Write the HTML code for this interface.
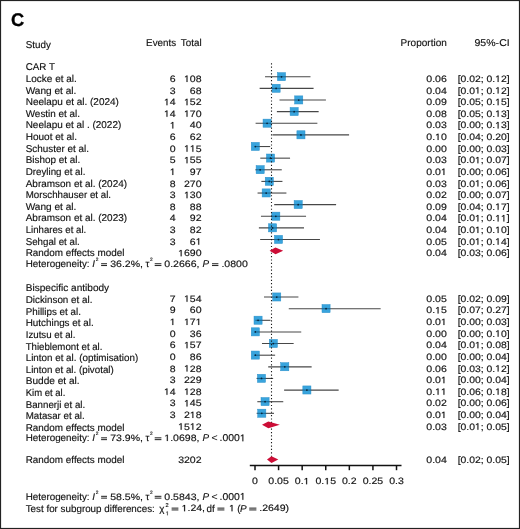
<!DOCTYPE html>
<html><head><meta charset="utf-8"><style>
html,body{margin:0;padding:0;background:#fff;}
body{width:520px;height:529px;overflow:hidden;}
svg{display:block;}
#w{will-change:transform;width:520px;height:529px;}
text{text-rendering:geometricPrecision;font-family:"Liberation Sans",sans-serif;font-size:9.9px;fill:#111;stroke:#111;stroke-width:0.15px;}
.num{font-size:9.2px;}
.eq{fill:#2a2a2a;}
.ones path{fill:#111;stroke:#111;stroke-width:0.15px;vector-effect:non-scaling-stroke;}
.sq{fill:#38a4dd;stroke:#2a8fc9;stroke-width:0.5;}
.cii{stroke:rgba(0,45,75,0.5);stroke-width:1.1;}
.ci{stroke:rgba(0,0,0,0.72);stroke-width:1.1;}
.dot{fill:#05243a;}
.dm{fill:#cc0d36;}
.ax{stroke:#111;stroke-width:1.5;}
.dt{stroke:#1a1a1a;stroke-width:1.1;stroke-dasharray:1.2 2.183;}
</style></head><body>
<div id="w"><svg width="520" height="529" viewBox="0 0 520 529">
<rect x="0.5" y="0.5" width="519" height="528" fill="#fff" stroke="#222" stroke-width="1.2"/>
<text x="11.0" y="26.1" style="font-size:18.3px;font-weight:bold;fill:#000;stroke:#000;stroke-width:0.3px">C</text>
<line x1="265.04" y1="76.78" x2="310.49" y2="76.78" class="ci"/>
<line x1="259.64" y1="88.40" x2="313.58" y2="88.40" class="ci"/>
<line x1="279.49" y1="100.03" x2="325.92" y2="100.03" class="ci"/>
<line x1="276.88" y1="111.65" x2="318.66" y2="111.65" class="ci"/>
<line x1="255.60" y1="123.28" x2="317.37" y2="123.28" class="ci"/>
<line x1="272.45" y1="134.91" x2="349.09" y2="134.91" class="ci"/>
<line x1="255.30" y1="146.53" x2="270.19" y2="146.53" class="ci"/>
<line x1="260.28" y1="158.16" x2="290.05" y2="158.16" class="ci"/>
<line x1="255.42" y1="169.78" x2="281.76" y2="169.78" class="ci"/>
<line x1="261.37" y1="181.41" x2="282.44" y2="181.41" class="ci"/>
<line x1="257.56" y1="193.04" x2="286.41" y2="193.04" class="ci"/>
<line x1="274.20" y1="204.66" x2="336.10" y2="204.66" class="ci"/>
<line x1="260.95" y1="216.29" x2="306.05" y2="216.29" class="ci"/>
<line x1="258.89" y1="227.91" x2="303.99" y2="227.91" class="ci"/>
<line x1="260.14" y1="239.54" x2="319.96" y2="239.54" class="ci"/>
<line x1="264.01" y1="297.07" x2="298.42" y2="297.07" class="ci"/>
<line x1="288.77" y1="308.70" x2="380.65" y2="308.70" class="ci"/>
<line x1="255.37" y1="320.32" x2="270.47" y2="320.32" class="ci"/>
<line x1="255.30" y1="331.95" x2="301.24" y2="331.95" class="ci"/>
<line x1="261.98" y1="343.57" x2="293.66" y2="343.57" class="ci"/>
<line x1="255.30" y1="355.20" x2="275.11" y2="355.20" class="ci"/>
<line x1="268.21" y1="366.83" x2="311.64" y2="366.83" class="ci"/>
<line x1="256.58" y1="378.45" x2="273.13" y2="378.45" class="ci"/>
<line x1="284.12" y1="390.08" x2="338.65" y2="390.08" class="ci"/>
<line x1="257.32" y1="401.70" x2="283.26" y2="401.70" class="ci"/>
<line x1="256.64" y1="413.33" x2="274.02" y2="413.33" class="ci"/>
<rect x="277.46" y="72.63" width="8.1" height="8.1" class="sq"/>
<rect x="272.06" y="84.25" width="8.1" height="8.1" class="sq"/>
<rect x="294.70" y="95.88" width="8.1" height="8.1" class="sq"/>
<rect x="290.10" y="107.50" width="8.1" height="8.1" class="sq"/>
<rect x="263.04" y="119.13" width="8.1" height="8.1" class="sq"/>
<rect x="296.90" y="130.76" width="8.1" height="8.1" class="sq"/>
<rect x="251.25" y="142.38" width="8.1" height="8.1" class="sq"/>
<rect x="266.47" y="154.01" width="8.1" height="8.1" class="sq"/>
<rect x="256.11" y="165.63" width="8.1" height="8.1" class="sq"/>
<rect x="265.23" y="177.26" width="8.1" height="8.1" class="sq"/>
<rect x="262.14" y="188.89" width="8.1" height="8.1" class="sq"/>
<rect x="294.13" y="200.51" width="8.1" height="8.1" class="sq"/>
<rect x="271.76" y="212.14" width="8.1" height="8.1" class="sq"/>
<rect x="268.51" y="223.76" width="8.1" height="8.1" class="sq"/>
<rect x="274.45" y="235.39" width="8.1" height="8.1" class="sq"/>
<rect x="272.69" y="292.92" width="8.1" height="8.1" class="sq"/>
<rect x="322.00" y="304.55" width="8.1" height="8.1" class="sq"/>
<rect x="254.01" y="316.17" width="8.1" height="8.1" class="sq"/>
<rect x="251.25" y="327.80" width="8.1" height="8.1" class="sq"/>
<rect x="269.28" y="339.42" width="8.1" height="8.1" class="sq"/>
<rect x="251.25" y="351.05" width="8.1" height="8.1" class="sq"/>
<rect x="280.73" y="362.68" width="8.1" height="8.1" class="sq"/>
<rect x="257.43" y="374.30" width="8.1" height="8.1" class="sq"/>
<rect x="302.84" y="385.93" width="8.1" height="8.1" class="sq"/>
<rect x="261.01" y="397.55" width="8.1" height="8.1" class="sq"/>
<rect x="257.74" y="409.18" width="8.1" height="8.1" class="sq"/>
<line x1="277.21" y1="76.78" x2="285.81" y2="76.78" class="cii"/>
<circle cx="281.51" cy="76.78" r="0.9" class="dot"/>
<line x1="271.81" y1="88.40" x2="280.41" y2="88.40" class="cii"/>
<circle cx="276.11" cy="88.40" r="0.9" class="dot"/>
<line x1="294.45" y1="100.03" x2="303.05" y2="100.03" class="cii"/>
<circle cx="298.75" cy="100.03" r="0.9" class="dot"/>
<line x1="289.85" y1="111.65" x2="298.45" y2="111.65" class="cii"/>
<circle cx="294.15" cy="111.65" r="0.9" class="dot"/>
<line x1="262.79" y1="123.28" x2="271.39" y2="123.28" class="cii"/>
<circle cx="267.09" cy="123.28" r="0.9" class="dot"/>
<line x1="296.65" y1="134.91" x2="305.25" y2="134.91" class="cii"/>
<circle cx="300.95" cy="134.91" r="0.9" class="dot"/>
<line x1="255.30" y1="146.53" x2="259.60" y2="146.53" class="cii"/>
<circle cx="255.30" cy="146.53" r="0.9" class="dot"/>
<line x1="266.22" y1="158.16" x2="274.82" y2="158.16" class="cii"/>
<circle cx="270.52" cy="158.16" r="0.9" class="dot"/>
<line x1="255.86" y1="169.78" x2="264.46" y2="169.78" class="cii"/>
<circle cx="260.16" cy="169.78" r="0.9" class="dot"/>
<line x1="264.98" y1="181.41" x2="273.58" y2="181.41" class="cii"/>
<circle cx="269.28" cy="181.41" r="0.9" class="dot"/>
<line x1="261.89" y1="193.04" x2="270.49" y2="193.04" class="cii"/>
<circle cx="266.19" cy="193.04" r="0.9" class="dot"/>
<line x1="293.88" y1="204.66" x2="302.48" y2="204.66" class="cii"/>
<circle cx="298.18" cy="204.66" r="0.9" class="dot"/>
<line x1="271.51" y1="216.29" x2="280.11" y2="216.29" class="cii"/>
<circle cx="275.81" cy="216.29" r="0.9" class="dot"/>
<line x1="268.26" y1="227.91" x2="276.86" y2="227.91" class="cii"/>
<circle cx="272.56" cy="227.91" r="0.9" class="dot"/>
<line x1="274.20" y1="239.54" x2="282.80" y2="239.54" class="cii"/>
<circle cx="278.50" cy="239.54" r="0.9" class="dot"/>
<line x1="272.44" y1="297.07" x2="281.04" y2="297.07" class="cii"/>
<circle cx="276.74" cy="297.07" r="0.9" class="dot"/>
<line x1="321.75" y1="308.70" x2="330.36" y2="308.70" class="cii"/>
<circle cx="326.06" cy="308.70" r="0.9" class="dot"/>
<line x1="255.37" y1="320.32" x2="262.36" y2="320.32" class="cii"/>
<circle cx="258.06" cy="320.32" r="0.9" class="dot"/>
<line x1="255.30" y1="331.95" x2="259.60" y2="331.95" class="cii"/>
<circle cx="255.30" cy="331.95" r="0.9" class="dot"/>
<line x1="269.03" y1="343.57" x2="277.63" y2="343.57" class="cii"/>
<circle cx="273.33" cy="343.57" r="0.9" class="dot"/>
<line x1="255.30" y1="355.20" x2="259.60" y2="355.20" class="cii"/>
<circle cx="255.30" cy="355.20" r="0.9" class="dot"/>
<line x1="280.48" y1="366.83" x2="289.08" y2="366.83" class="cii"/>
<circle cx="284.78" cy="366.83" r="0.9" class="dot"/>
<line x1="257.18" y1="378.45" x2="265.78" y2="378.45" class="cii"/>
<circle cx="261.48" cy="378.45" r="0.9" class="dot"/>
<line x1="302.59" y1="390.08" x2="311.19" y2="390.08" class="cii"/>
<circle cx="306.89" cy="390.08" r="0.9" class="dot"/>
<line x1="260.76" y1="401.70" x2="269.36" y2="401.70" class="cii"/>
<circle cx="265.06" cy="401.70" r="0.9" class="dot"/>
<line x1="257.49" y1="413.33" x2="266.09" y2="413.33" class="cii"/>
<circle cx="261.79" cy="413.33" r="0.9" class="dot"/>
<line x1="271.5" y1="63.2" x2="271.5" y2="458" class="dt"/>
<polygon points="269.60,250.85 275.50,247.55 283.20,250.85 275.50,254.15" class="dm"/>
<polygon points="262.00,424.85 268.30,421.55 279.80,424.85 268.30,428.15" class="dm"/>
<polygon points="267.00,459.60 271.50,456.25 278.30,459.60 271.50,462.95" class="dm"/>
<line x1="249.8" y1="465.5" x2="401.5" y2="465.5" class="ax"/>
<line x1="255.00" y1="465.5" x2="255.00" y2="470.2" class="ax"/>
<line x1="278.58" y1="465.5" x2="278.58" y2="470.2" class="ax"/>
<line x1="302.17" y1="465.5" x2="302.17" y2="470.2" class="ax"/>
<line x1="325.75" y1="465.5" x2="325.75" y2="470.2" class="ax"/>
<line x1="349.34" y1="465.5" x2="349.34" y2="470.2" class="ax"/>
<line x1="372.93" y1="465.5" x2="372.93" y2="470.2" class="ax"/>
<line x1="396.51" y1="465.5" x2="396.51" y2="470.2" class="ax"/>
<text transform="translate(25.70 47.50) scale(0.994 1)">Study</text>
<text transform="translate(176.10 45.70) scale(0.994 1)" text-anchor="end">Events</text>
<text transform="translate(201.60 45.70) scale(0.994 1)" text-anchor="end">Total</text>
<text transform="translate(446.80 45.70) scale(1.0138800000000001 1)" text-anchor="end">Proportion</text>
<text transform="translate(509.70 45.50) scale(1.0685499999999999 1)" text-anchor="end">95%-CI</text>
<text transform="translate(25.70 70.30) scale(0.994 1)">CAR T</text>
<text transform="translate(25.70 81.93) scale(1.0124883999999998 1)">Locke et al.</text>
<text transform="translate(175.70 81.92) scale(1.147 1)" text-anchor="end" class="num">6</text>
<text transform="translate(201.60 81.92) scale(1.147 1)" text-anchor="end" class="num"> 08</text>
<text transform="translate(446.80 81.92) scale(1.147 1)" text-anchor="end" class="num">0.06</text>
<text transform="translate(509.60 81.92) scale(1.129795 1)" text-anchor="end" class="num">[0.02; 0. 2]</text>
<text transform="translate(25.70 93.55) scale(1.021335 1)">Wang et al.</text>
<text transform="translate(175.70 93.54) scale(1.147 1)" text-anchor="end" class="num">3</text>
<text transform="translate(201.60 93.54) scale(1.147 1)" text-anchor="end" class="num">68</text>
<text transform="translate(446.80 93.54) scale(1.147 1)" text-anchor="end" class="num">0.04</text>
<text transform="translate(509.60 93.54) scale(1.129795 1)" text-anchor="end" class="num">[0.0 ; 0. 2]</text>
<text transform="translate(25.70 105.18) scale(1.0105004 1)">Neelapu et al. (2024)</text>
<text transform="translate(175.70 105.17) scale(1.147 1)" text-anchor="end" class="num"> 4</text>
<text transform="translate(201.60 105.17) scale(1.147 1)" text-anchor="end" class="num"> 52</text>
<text transform="translate(446.80 105.17) scale(1.147 1)" text-anchor="end" class="num">0.09</text>
<text transform="translate(509.60 105.17) scale(1.129795 1)" text-anchor="end" class="num">[0.05; 0. 5]</text>
<text transform="translate(25.70 116.80) scale(1.0033436 1)">Westin et al.</text>
<text transform="translate(175.70 116.79) scale(1.147 1)" text-anchor="end" class="num"> 4</text>
<text transform="translate(201.60 116.79) scale(1.147 1)" text-anchor="end" class="num"> 70</text>
<text transform="translate(446.80 116.79) scale(1.147 1)" text-anchor="end" class="num">0.08</text>
<text transform="translate(509.60 116.79) scale(1.129795 1)" text-anchor="end" class="num">[0.05; 0. 3]</text>
<text transform="translate(25.70 128.43) scale(1.0058286 1)">Neelapu et al . (2022)</text>
<text transform="translate(175.70 128.42) scale(1.147 1)" text-anchor="end" class="num"> </text>
<text transform="translate(201.60 128.42) scale(1.147 1)" text-anchor="end" class="num">40</text>
<text transform="translate(446.80 128.42) scale(1.147 1)" text-anchor="end" class="num">0.03</text>
<text transform="translate(509.60 128.42) scale(1.129795 1)" text-anchor="end" class="num">[0.00; 0. 3]</text>
<text transform="translate(25.70 140.06) scale(1.0165638 1)">Houot et al.</text>
<text transform="translate(175.70 140.05) scale(1.147 1)" text-anchor="end" class="num">6</text>
<text transform="translate(201.60 140.05) scale(1.147 1)" text-anchor="end" class="num">62</text>
<text transform="translate(446.80 140.05) scale(1.147 1)" text-anchor="end" class="num">0. 0</text>
<text transform="translate(509.60 140.05) scale(1.129795 1)" text-anchor="end" class="num">[0.04; 0.20]</text>
<text transform="translate(25.70 151.68) scale(1.002449 1)">Schuster et al.</text>
<text transform="translate(175.70 151.67) scale(1.147 1)" text-anchor="end" class="num">0</text>
<text transform="translate(201.60 151.67) scale(1.147 1)" text-anchor="end" class="num">  5</text>
<text transform="translate(446.80 151.67) scale(1.147 1)" text-anchor="end" class="num">0.00</text>
<text transform="translate(509.60 151.67) scale(1.129795 1)" text-anchor="end" class="num">[0.00; 0.03]</text>
<text transform="translate(25.70 163.31) scale(1.0038406 1)">Bishop et al.</text>
<text transform="translate(175.70 163.30) scale(1.147 1)" text-anchor="end" class="num">5</text>
<text transform="translate(201.60 163.30) scale(1.147 1)" text-anchor="end" class="num"> 55</text>
<text transform="translate(446.80 163.30) scale(1.147 1)" text-anchor="end" class="num">0.03</text>
<text transform="translate(509.60 163.30) scale(1.129795 1)" text-anchor="end" class="num">[0.0 ; 0.07]</text>
<text transform="translate(25.70 174.93) scale(0.98903 1)">Dreyling et al.</text>
<text transform="translate(175.70 174.92) scale(1.147 1)" text-anchor="end" class="num"> </text>
<text transform="translate(201.60 174.92) scale(1.147 1)" text-anchor="end" class="num">97</text>
<text transform="translate(446.80 174.92) scale(1.147 1)" text-anchor="end" class="num">0.0 </text>
<text transform="translate(509.60 174.92) scale(1.129795 1)" text-anchor="end" class="num">[0.00; 0.06]</text>
<text transform="translate(25.70 186.56) scale(1.0090093999999998 1)">Abramson et al. (2024)</text>
<text transform="translate(175.70 186.55) scale(1.147 1)" text-anchor="end" class="num">8</text>
<text transform="translate(201.60 186.55) scale(1.147 1)" text-anchor="end" class="num">270</text>
<text transform="translate(446.80 186.55) scale(1.147 1)" text-anchor="end" class="num">0.03</text>
<text transform="translate(509.60 186.55) scale(1.129795 1)" text-anchor="end" class="num">[0.0 ; 0.06]</text>
<text transform="translate(25.70 198.19) scale(0.9838612 1)">Morschhauser et al.</text>
<text transform="translate(175.70 198.18) scale(1.147 1)" text-anchor="end" class="num">3</text>
<text transform="translate(201.60 198.18) scale(1.147 1)" text-anchor="end" class="num"> 30</text>
<text transform="translate(446.80 198.18) scale(1.147 1)" text-anchor="end" class="num">0.02</text>
<text transform="translate(509.60 198.18) scale(1.129795 1)" text-anchor="end" class="num">[0.00; 0.07]</text>
<text transform="translate(25.70 209.81) scale(1.021335 1)">Wang et al.</text>
<text transform="translate(175.70 209.80) scale(1.147 1)" text-anchor="end" class="num">8</text>
<text transform="translate(201.60 209.80) scale(1.147 1)" text-anchor="end" class="num">88</text>
<text transform="translate(446.80 209.80) scale(1.147 1)" text-anchor="end" class="num">0.09</text>
<text transform="translate(509.60 209.80) scale(1.129795 1)" text-anchor="end" class="num">[0.04; 0. 7]</text>
<text transform="translate(25.70 221.44) scale(1.0090093999999998 1)">Abramson et al. (2023)</text>
<text transform="translate(175.70 221.43) scale(1.147 1)" text-anchor="end" class="num">4</text>
<text transform="translate(201.60 221.43) scale(1.147 1)" text-anchor="end" class="num">92</text>
<text transform="translate(446.80 221.43) scale(1.147 1)" text-anchor="end" class="num">0.04</text>
<text transform="translate(509.60 221.43) scale(1.129795 1)" text-anchor="end" class="num">[0.0 ; 0.  ]</text>
<text transform="translate(25.70 233.06) scale(0.976108 1)">Linhares et al.</text>
<text transform="translate(175.70 233.05) scale(1.147 1)" text-anchor="end" class="num">3</text>
<text transform="translate(201.60 233.05) scale(1.147 1)" text-anchor="end" class="num">82</text>
<text transform="translate(446.80 233.05) scale(1.147 1)" text-anchor="end" class="num">0.04</text>
<text transform="translate(509.60 233.05) scale(1.129795 1)" text-anchor="end" class="num">[0.0 ; 0. 0]</text>
<text transform="translate(25.70 244.69) scale(0.984557 1)">Sehgal et al.</text>
<text transform="translate(175.70 244.68) scale(1.147 1)" text-anchor="end" class="num">3</text>
<text transform="translate(201.60 244.68) scale(1.147 1)" text-anchor="end" class="num">6 </text>
<text transform="translate(446.80 244.68) scale(1.147 1)" text-anchor="end" class="num">0.05</text>
<text transform="translate(509.60 244.68) scale(1.129795 1)" text-anchor="end" class="num">[0.0 ; 0. 4]</text>
<text transform="translate(25.70 256.32) scale(1.0010574 1)">Random effects model</text>
<text transform="translate(201.60 256.31) scale(1.147 1)" text-anchor="end" class="num"> 690</text>
<text transform="translate(446.80 256.31) scale(1.147 1)" text-anchor="end" class="num">0.04</text>
<text transform="translate(509.60 256.31) scale(1.129795 1)" text-anchor="end" class="num">[0.03; 0.06]</text>
<text transform="translate(25.70 267.20) scale(0.994 1)">Heterogeneity:</text>
<text x="92.20" y="267.20" style="font-style:italic">I</text>
<text x="95.70" y="261.00" style="font-size:4.8px">2</text>
<rect x="101.10" y="263.20" width="5.90" height="1.05" class="eq"/>
<rect x="101.10" y="265.00" width="5.90" height="1.05" class="eq"/>
<text transform="translate(110.20 266.90) scale(1.147 1)" class="num">36.2%,</text>
<text x="145.60" y="267.20">τ</text>
<text x="150.00" y="261.00" style="font-size:4.8px">2</text>
<rect x="154.70" y="263.20" width="6.70" height="1.05" class="eq"/>
<rect x="154.70" y="265.00" width="6.70" height="1.05" class="eq"/>
<text transform="translate(164.30 266.90) scale(1.147 1)" class="num">0.2666,</text>
<text x="202.60" y="267.20" style="font-style:italic">P</text>
<rect x="212.00" y="263.20" width="6.40" height="1.05" class="eq"/>
<rect x="212.00" y="265.00" width="6.40" height="1.05" class="eq"/>
<text transform="translate(221.40 266.90) scale(1.147 1)" class="num">.0800</text>
<text transform="translate(25.70 291.39) scale(1.0200428 1)">Bispecific antibody</text>
<text transform="translate(25.70 303.02) scale(0.995491 1)">Dickinson et al.</text>
<text transform="translate(175.70 301.76) scale(1.147 1)" text-anchor="end" class="num">7</text>
<text transform="translate(201.60 301.76) scale(1.147 1)" text-anchor="end" class="num"> 54</text>
<text transform="translate(446.80 301.76) scale(1.147 1)" text-anchor="end" class="num">0.05</text>
<text transform="translate(509.60 301.76) scale(1.129795 1)" text-anchor="end" class="num">[0.02; 0.09]</text>
<text transform="translate(25.70 314.65) scale(0.995491 1)">Phillips et al.</text>
<text transform="translate(175.70 313.39) scale(1.147 1)" text-anchor="end" class="num">9</text>
<text transform="translate(201.60 313.39) scale(1.147 1)" text-anchor="end" class="num">60</text>
<text transform="translate(446.80 313.39) scale(1.147 1)" text-anchor="end" class="num">0. 5</text>
<text transform="translate(509.60 313.39) scale(1.129795 1)" text-anchor="end" class="num">[0.07; 0.27]</text>
<text transform="translate(25.70 326.27) scale(0.9984729999999999 1)">Hutchings et al.</text>
<text transform="translate(175.70 325.01) scale(1.147 1)" text-anchor="end" class="num"> </text>
<text transform="translate(201.60 325.01) scale(1.147 1)" text-anchor="end" class="num"> 7 </text>
<text transform="translate(446.80 325.01) scale(1.147 1)" text-anchor="end" class="num">0.0 </text>
<text transform="translate(509.60 325.01) scale(1.129795 1)" text-anchor="end" class="num">[0.00; 0.03]</text>
<text transform="translate(25.70 337.90) scale(0.9844575999999999 1)">Izutsu et al.</text>
<text transform="translate(175.70 336.64) scale(1.147 1)" text-anchor="end" class="num">0</text>
<text transform="translate(201.60 336.64) scale(1.147 1)" text-anchor="end" class="num">36</text>
<text transform="translate(446.80 336.64) scale(1.147 1)" text-anchor="end" class="num">0.00</text>
<text transform="translate(509.60 336.64) scale(1.129795 1)" text-anchor="end" class="num">[0.00; 0. 0]</text>
<text transform="translate(25.70 349.52) scale(0.9776984000000001 1)">Thieblemont et al.</text>
<text transform="translate(175.70 348.26) scale(1.147 1)" text-anchor="end" class="num">6</text>
<text transform="translate(201.60 348.26) scale(1.147 1)" text-anchor="end" class="num"> 57</text>
<text transform="translate(446.80 348.26) scale(1.147 1)" text-anchor="end" class="num">0.04</text>
<text transform="translate(509.60 348.26) scale(1.129795 1)" text-anchor="end" class="num">[0.0 ; 0.08]</text>
<text transform="translate(25.70 361.15) scale(0.9945963999999999 1)">Linton et al. (optimisation)</text>
<text transform="translate(175.70 359.89) scale(1.147 1)" text-anchor="end" class="num">0</text>
<text transform="translate(201.60 359.89) scale(1.147 1)" text-anchor="end" class="num">86</text>
<text transform="translate(446.80 359.89) scale(1.147 1)" text-anchor="end" class="num">0.00</text>
<text transform="translate(509.60 359.89) scale(1.129795 1)" text-anchor="end" class="num">[0.00; 0.04]</text>
<text transform="translate(25.70 372.78) scale(0.9903221999999999 1)">Linton et al. (pivotal)</text>
<text transform="translate(175.70 371.52) scale(1.147 1)" text-anchor="end" class="num">8</text>
<text transform="translate(201.60 371.52) scale(1.147 1)" text-anchor="end" class="num"> 28</text>
<text transform="translate(446.80 371.52) scale(1.147 1)" text-anchor="end" class="num">0.06</text>
<text transform="translate(509.60 371.52) scale(1.129795 1)" text-anchor="end" class="num">[0.03; 0. 2]</text>
<text transform="translate(25.70 384.40) scale(1.0237206 1)">Budde et al.</text>
<text transform="translate(175.70 383.14) scale(1.147 1)" text-anchor="end" class="num">3</text>
<text transform="translate(201.60 383.14) scale(1.147 1)" text-anchor="end" class="num">229</text>
<text transform="translate(446.80 383.14) scale(1.147 1)" text-anchor="end" class="num">0.0 </text>
<text transform="translate(509.60 383.14) scale(1.129795 1)" text-anchor="end" class="num">[0.00; 0.04]</text>
<text transform="translate(25.70 396.03) scale(0.9621919999999999 1)">Kim et al.</text>
<text transform="translate(175.70 394.77) scale(1.147 1)" text-anchor="end" class="num"> 4</text>
<text transform="translate(201.60 394.77) scale(1.147 1)" text-anchor="end" class="num"> 28</text>
<text transform="translate(446.80 394.77) scale(1.147 1)" text-anchor="end" class="num">0.  </text>
<text transform="translate(509.60 394.77) scale(1.129795 1)" text-anchor="end" class="num">[0.06; 0. 8]</text>
<text transform="translate(25.70 407.65) scale(0.9857498 1)">Bannerji et al.</text>
<text transform="translate(175.70 406.39) scale(1.147 1)" text-anchor="end" class="num">3</text>
<text transform="translate(201.60 406.39) scale(1.147 1)" text-anchor="end" class="num"> 45</text>
<text transform="translate(446.80 406.39) scale(1.147 1)" text-anchor="end" class="num">0.02</text>
<text transform="translate(509.60 406.39) scale(1.129795 1)" text-anchor="end" class="num">[0.00; 0.06]</text>
<text transform="translate(25.70 419.28) scale(0.9857498 1)">Matasar et al.</text>
<text transform="translate(175.70 418.02) scale(1.147 1)" text-anchor="end" class="num">3</text>
<text transform="translate(201.60 418.02) scale(1.147 1)" text-anchor="end" class="num">2 8</text>
<text transform="translate(446.80 418.02) scale(1.147 1)" text-anchor="end" class="num">0.0 </text>
<text transform="translate(509.60 418.02) scale(1.129795 1)" text-anchor="end" class="num">[0.00; 0.04]</text>
<text transform="translate(25.70 430.91) scale(1.0010574 1)">Random effects model</text>
<text transform="translate(201.60 429.65) scale(1.147 1)" text-anchor="end" class="num"> 5 2</text>
<text transform="translate(446.80 429.65) scale(1.147 1)" text-anchor="end" class="num">0.03</text>
<text transform="translate(509.60 429.65) scale(1.129795 1)" text-anchor="end" class="num">[0.0 ; 0.05]</text>
<text transform="translate(25.70 441.30) scale(0.994 1)">Heterogeneity:</text>
<text x="92.20" y="441.30" style="font-style:italic">I</text>
<text x="95.70" y="435.10" style="font-size:4.8px">2</text>
<rect x="101.10" y="437.30" width="5.90" height="1.05" class="eq"/>
<rect x="101.10" y="439.10" width="5.90" height="1.05" class="eq"/>
<text transform="translate(110.20 441.00) scale(1.147 1)" class="num">73.9%,</text>
<text x="145.60" y="441.30">τ</text>
<text x="150.00" y="435.10" style="font-size:4.8px">2</text>
<rect x="154.70" y="437.30" width="6.70" height="1.05" class="eq"/>
<rect x="154.70" y="439.10" width="6.70" height="1.05" class="eq"/>
<text transform="translate(164.30 441.00) scale(1.147 1)" class="num"> .0698,</text>
<text x="202.60" y="441.30" style="font-style:italic">P</text>
<text transform="translate(211.60 441.30) scale(1.05 1)">&lt;</text>
<text transform="translate(219.60 441.30) scale(1.05524 1)">.000 </text>
<text transform="translate(25.70 462.80) scale(1.0010574 1)">Random effects model</text>
<text transform="translate(201.60 462.80) scale(1.147 1)" text-anchor="end" class="num">3202</text>
<text transform="translate(446.80 462.80) scale(1.147 1)" text-anchor="end" class="num">0.04</text>
<text transform="translate(509.60 462.80) scale(1.129795 1)" text-anchor="end" class="num">[0.02; 0.05]</text>
<text transform="translate(25.70 499.80) scale(0.994 1)">Heterogeneity:</text>
<text x="92.20" y="499.80" style="font-style:italic">I</text>
<text x="95.70" y="493.60" style="font-size:4.8px">2</text>
<rect x="101.10" y="495.80" width="5.90" height="1.05" class="eq"/>
<rect x="101.10" y="497.60" width="5.90" height="1.05" class="eq"/>
<text transform="translate(110.20 499.50) scale(1.147 1)" class="num">58.5%,</text>
<text x="145.60" y="499.80">τ</text>
<text x="150.00" y="493.60" style="font-size:4.8px">2</text>
<rect x="154.70" y="495.80" width="6.70" height="1.05" class="eq"/>
<rect x="154.70" y="497.60" width="6.70" height="1.05" class="eq"/>
<text transform="translate(164.30 499.50) scale(1.147 1)" class="num">0.5843,</text>
<text x="202.60" y="499.80" style="font-style:italic">P</text>
<text transform="translate(211.60 499.80) scale(1.05 1)">&lt;</text>
<text transform="translate(219.60 499.80) scale(1.05524 1)">.000 </text>
<text transform="translate(25.70 511.60) scale(0.994 1)">Test for subgroup differences:</text>
<text x="159.20" y="511.60">χ</text>
<text x="165.60" y="507.00" style="font-size:5.6px">2</text>
<text x="165.80" y="515.30" style="font-size:5.6px"> </text>
<rect x="171.60" y="507.60" width="6.80" height="1.05" class="eq"/>
<rect x="171.60" y="509.40" width="6.80" height="1.05" class="eq"/>
<text transform="translate(181.60 511.30) scale(1.147 1)" class="num"> .24,</text>
<text transform="translate(206.60 511.60) scale(0.994 1)">df</text>
<rect x="217.40" y="507.60" width="7.00" height="1.05" class="eq"/>
<rect x="217.40" y="509.40" width="7.00" height="1.05" class="eq"/>
<text transform="translate(229.00 511.30) scale(1.147 1)" class="num"> </text>
<text transform="translate(237.20 511.60) scale(0.994 1)">(</text>
<text x="240.00" y="511.60" style="font-style:italic">P</text>
<rect x="249.20" y="507.60" width="7.20" height="1.05" class="eq"/>
<rect x="249.20" y="509.40" width="7.20" height="1.05" class="eq"/>
<text transform="translate(259.20 511.30) scale(1.147 1)" class="num">.2649)</text>
<text transform="translate(255.00 484.30) scale(1.147 1)" text-anchor="middle" class="num">0</text>
<text transform="translate(278.58 484.30) scale(1.147 1)" text-anchor="middle" class="num">0.05</text>
<text transform="translate(302.17 484.30) scale(1.147 1)" text-anchor="middle" class="num">0. </text>
<text transform="translate(325.75 484.30) scale(1.147 1)" text-anchor="middle" class="num">0. 5</text>
<text transform="translate(349.34 484.30) scale(1.147 1)" text-anchor="middle" class="num">0.2</text>
<text transform="translate(372.93 484.30) scale(1.147 1)" text-anchor="middle" class="num">0.25</text>
<text transform="translate(396.51 484.30) scale(1.147 1)" text-anchor="middle" class="num">0.3</text>
<g class="ones"><path d="M492 0V1200L190 1000V1165L520 1409H676V0Z" transform="matrix(0.005153 0 0 -0.004492 184.00 81.92)"/><path d="M492 0V1200L190 1000V1165L520 1409H676V0Z" transform="matrix(0.005075 0 0 -0.004492 495.14 81.92)"/><path d="M492 0V1200L190 1000V1165L520 1409H676V0Z" transform="matrix(0.005075 0 0 -0.004492 474.95 93.54)"/><path d="M492 0V1200L190 1000V1165L520 1409H676V0Z" transform="matrix(0.005075 0 0 -0.004492 495.14 93.54)"/><path d="M492 0V1200L190 1000V1165L520 1409H676V0Z" transform="matrix(0.005153 0 0 -0.004492 163.96 105.17)"/><path d="M492 0V1200L190 1000V1165L520 1409H676V0Z" transform="matrix(0.005153 0 0 -0.004492 184.00 105.17)"/><path d="M492 0V1200L190 1000V1165L520 1409H676V0Z" transform="matrix(0.005075 0 0 -0.004492 495.14 105.17)"/><path d="M492 0V1200L190 1000V1165L520 1409H676V0Z" transform="matrix(0.005153 0 0 -0.004492 163.96 116.79)"/><path d="M492 0V1200L190 1000V1165L520 1409H676V0Z" transform="matrix(0.005153 0 0 -0.004492 184.00 116.79)"/><path d="M492 0V1200L190 1000V1165L520 1409H676V0Z" transform="matrix(0.005075 0 0 -0.004492 495.14 116.79)"/><path d="M492 0V1200L190 1000V1165L520 1409H676V0Z" transform="matrix(0.005153 0 0 -0.004492 169.82 128.42)"/><path d="M492 0V1200L190 1000V1165L520 1409H676V0Z" transform="matrix(0.005075 0 0 -0.004492 495.14 128.42)"/><path d="M492 0V1200L190 1000V1165L520 1409H676V0Z" transform="matrix(0.005153 0 0 -0.004492 435.06 140.05)"/><path d="M492 0V1200L190 1000V1165L520 1409H676V0Z" transform="matrix(0.005153 0 0 -0.004492 184.00 151.67)"/><path d="M492 0V1200L190 1000V1165L520 1409H676V0Z" transform="matrix(0.005153 0 0 -0.004492 189.86 151.67)"/><path d="M492 0V1200L190 1000V1165L520 1409H676V0Z" transform="matrix(0.005153 0 0 -0.004492 184.00 163.30)"/><path d="M492 0V1200L190 1000V1165L520 1409H676V0Z" transform="matrix(0.005075 0 0 -0.004492 474.95 163.30)"/><path d="M492 0V1200L190 1000V1165L520 1409H676V0Z" transform="matrix(0.005153 0 0 -0.004492 169.82 174.92)"/><path d="M492 0V1200L190 1000V1165L520 1409H676V0Z" transform="matrix(0.005153 0 0 -0.004492 440.92 174.92)"/><path d="M492 0V1200L190 1000V1165L520 1409H676V0Z" transform="matrix(0.005075 0 0 -0.004492 474.95 186.55)"/><path d="M492 0V1200L190 1000V1165L520 1409H676V0Z" transform="matrix(0.005153 0 0 -0.004492 184.00 198.18)"/><path d="M492 0V1200L190 1000V1165L520 1409H676V0Z" transform="matrix(0.005075 0 0 -0.004492 495.14 209.80)"/><path d="M492 0V1200L190 1000V1165L520 1409H676V0Z" transform="matrix(0.005075 0 0 -0.004492 474.95 221.43)"/><path d="M492 0V1200L190 1000V1165L520 1409H676V0Z" transform="matrix(0.005075 0 0 -0.004492 495.14 221.43)"/><path d="M492 0V1200L190 1000V1165L520 1409H676V0Z" transform="matrix(0.005075 0 0 -0.004492 500.91 221.43)"/><path d="M492 0V1200L190 1000V1165L520 1409H676V0Z" transform="matrix(0.005075 0 0 -0.004492 474.95 233.05)"/><path d="M492 0V1200L190 1000V1165L520 1409H676V0Z" transform="matrix(0.005075 0 0 -0.004492 495.14 233.05)"/><path d="M492 0V1200L190 1000V1165L520 1409H676V0Z" transform="matrix(0.005153 0 0 -0.004492 195.72 244.68)"/><path d="M492 0V1200L190 1000V1165L520 1409H676V0Z" transform="matrix(0.005075 0 0 -0.004492 474.95 244.68)"/><path d="M492 0V1200L190 1000V1165L520 1409H676V0Z" transform="matrix(0.005075 0 0 -0.004492 495.14 244.68)"/><path d="M492 0V1200L190 1000V1165L520 1409H676V0Z" transform="matrix(0.005153 0 0 -0.004492 178.14 256.31)"/><path d="M492 0V1200L190 1000V1165L520 1409H676V0Z" transform="matrix(0.005153 0 0 -0.004492 184.00 301.76)"/><path d="M492 0V1200L190 1000V1165L520 1409H676V0Z" transform="matrix(0.005153 0 0 -0.004492 435.06 313.39)"/><path d="M492 0V1200L190 1000V1165L520 1409H676V0Z" transform="matrix(0.005153 0 0 -0.004492 169.82 325.01)"/><path d="M492 0V1200L190 1000V1165L520 1409H676V0Z" transform="matrix(0.005153 0 0 -0.004492 184.00 325.01)"/><path d="M492 0V1200L190 1000V1165L520 1409H676V0Z" transform="matrix(0.005153 0 0 -0.004492 195.72 325.01)"/><path d="M492 0V1200L190 1000V1165L520 1409H676V0Z" transform="matrix(0.005153 0 0 -0.004492 440.92 325.01)"/><path d="M492 0V1200L190 1000V1165L520 1409H676V0Z" transform="matrix(0.005075 0 0 -0.004492 495.14 336.64)"/><path d="M492 0V1200L190 1000V1165L520 1409H676V0Z" transform="matrix(0.005153 0 0 -0.004492 184.00 348.26)"/><path d="M492 0V1200L190 1000V1165L520 1409H676V0Z" transform="matrix(0.005075 0 0 -0.004492 474.95 348.26)"/><path d="M492 0V1200L190 1000V1165L520 1409H676V0Z" transform="matrix(0.005153 0 0 -0.004492 184.00 371.52)"/><path d="M492 0V1200L190 1000V1165L520 1409H676V0Z" transform="matrix(0.005075 0 0 -0.004492 495.14 371.52)"/><path d="M492 0V1200L190 1000V1165L520 1409H676V0Z" transform="matrix(0.005153 0 0 -0.004492 440.92 383.14)"/><path d="M492 0V1200L190 1000V1165L520 1409H676V0Z" transform="matrix(0.005153 0 0 -0.004492 163.96 394.77)"/><path d="M492 0V1200L190 1000V1165L520 1409H676V0Z" transform="matrix(0.005153 0 0 -0.004492 184.00 394.77)"/><path d="M492 0V1200L190 1000V1165L520 1409H676V0Z" transform="matrix(0.005153 0 0 -0.004492 435.06 394.77)"/><path d="M492 0V1200L190 1000V1165L520 1409H676V0Z" transform="matrix(0.005153 0 0 -0.004492 440.92 394.77)"/><path d="M492 0V1200L190 1000V1165L520 1409H676V0Z" transform="matrix(0.005075 0 0 -0.004492 495.14 394.77)"/><path d="M492 0V1200L190 1000V1165L520 1409H676V0Z" transform="matrix(0.005153 0 0 -0.004492 184.00 406.39)"/><path d="M492 0V1200L190 1000V1165L520 1409H676V0Z" transform="matrix(0.005153 0 0 -0.004492 189.86 418.02)"/><path d="M492 0V1200L190 1000V1165L520 1409H676V0Z" transform="matrix(0.005153 0 0 -0.004492 440.92 418.02)"/><path d="M492 0V1200L190 1000V1165L520 1409H676V0Z" transform="matrix(0.005153 0 0 -0.004492 178.14 429.65)"/><path d="M492 0V1200L190 1000V1165L520 1409H676V0Z" transform="matrix(0.005153 0 0 -0.004492 189.86 429.65)"/><path d="M492 0V1200L190 1000V1165L520 1409H676V0Z" transform="matrix(0.005075 0 0 -0.004492 474.95 429.65)"/><path d="M492 0V1200L190 1000V1165L520 1409H676V0Z" transform="matrix(0.005153 0 0 -0.004492 164.30 441.00)"/><path d="M492 0V1200L190 1000V1165L520 1409H676V0Z" transform="matrix(0.005101 0 0 -0.004834 239.88 441.30)"/><path d="M492 0V1200L190 1000V1165L520 1409H676V0Z" transform="matrix(0.005101 0 0 -0.004834 239.88 499.80)"/><path d="M492 0V1200L190 1000V1165L520 1409H676V0Z" transform="matrix(0.002734 0 0 -0.002734 165.80 515.30)"/><path d="M492 0V1200L190 1000V1165L520 1409H676V0Z" transform="matrix(0.005153 0 0 -0.004492 181.60 511.30)"/><path d="M492 0V1200L190 1000V1165L520 1409H676V0Z" transform="matrix(0.005153 0 0 -0.004492 229.00 511.30)"/><path d="M492 0V1200L190 1000V1165L520 1409H676V0Z" transform="matrix(0.005153 0 0 -0.004492 303.62 484.30)"/><path d="M492 0V1200L190 1000V1165L520 1409H676V0Z" transform="matrix(0.005153 0 0 -0.004492 324.27 484.30)"/></g>
</svg></div>
</body></html>
